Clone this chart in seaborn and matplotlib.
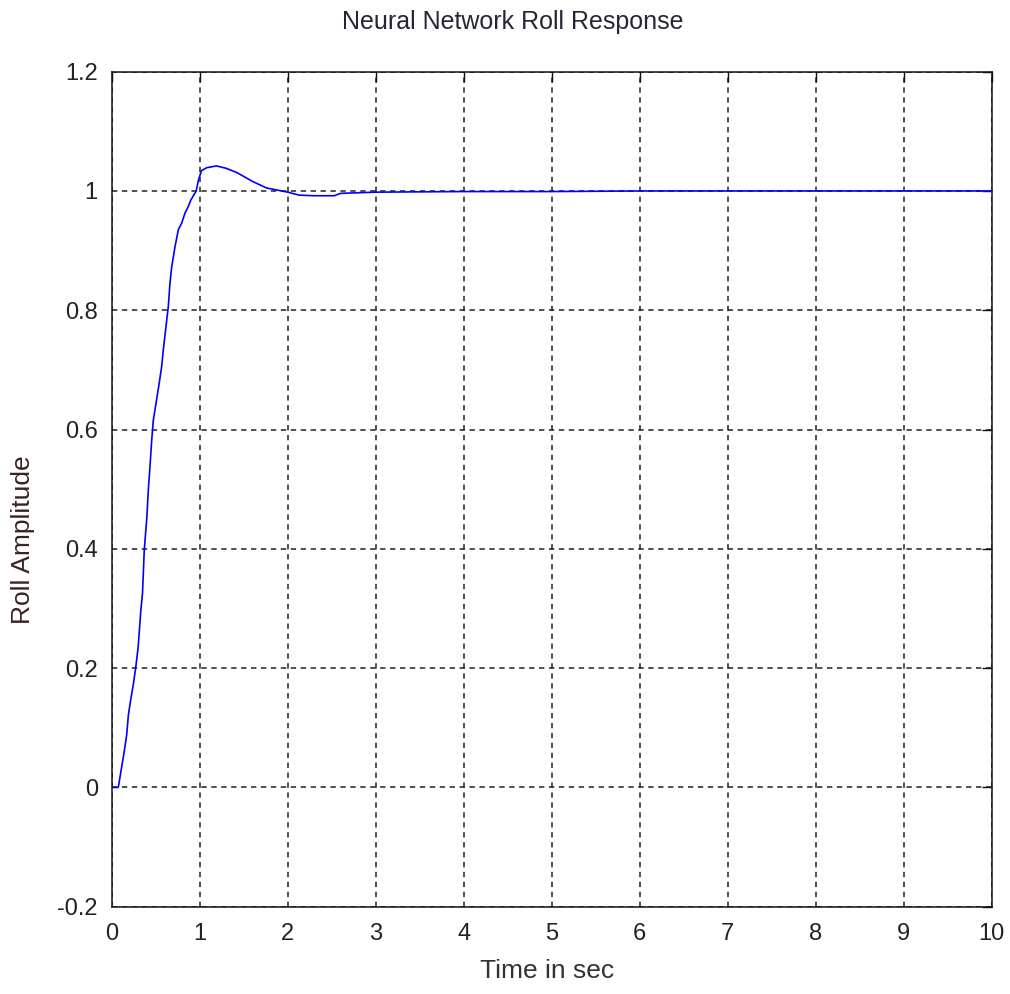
import matplotlib
matplotlib.use("Agg")
import matplotlib.pyplot as plt
import seaborn as sns
import pandas as pd

# Data
time_sec = [0, 0.075, 0.114, 0.14, 0.17, 0.19, 0.216, 0.245, 0.273, 0.30, 0.33, 0.35,
            0.37, 0.40, 0.416, 0.435, 0.455, 0.473, 0.51, 0.54, 0.568, 0.586, 0.617,
            0.643, 0.662, 0.682, 0.72, 0.757, 0.795, 0.833, 0.87, 0.90, 0.96, 0.985,
            1.02, 1.08, 1.19, 1.3, 1.42, 1.6, 1.76, 2.0, 2.13, 2.3, 2.53, 2.6,
            3, 4, 5, 6, 7, 8, 9, 10]
roll_amp = [0, 0, 0.035, 0.058, 0.088, 0.122, 0.147, 0.172, 0.201, 0.234, 0.295, 0.326,
            0.398, 0.454, 0.499, 0.538, 0.583, 0.616, 0.65, 0.678, 0.706, 0.733, 0.773,
            0.806, 0.845, 0.873, 0.907, 0.935, 0.946, 0.963, 0.974, 0.985, 1.0, 1.018,
            1.034, 1.039, 1.042, 1.038, 1.031, 1.016, 1.005, 0.998, 0.993, 0.992, 0.992, 0.996,
            0.998, 0.999, 0.999, 1.0, 1.0, 1.0, 1.0, 1.0]
x_ticks = [0, 1, 2, 3, 4, 5, 6, 7, 8, 9, 10]
y_ticks = [-0.2, 0, 0.2, 0.4, 0.6, 0.8, 1.0, 1.2]
y_tick_labels = ["-0.2", "0", "0.2", "0.4", "0.6", "0.8", "1", "1.2"]

sns.set_style("white")
plt.rcParams['font.family'] = ['Liberation Sans', 'DejaVu Sans']

df = pd.DataFrame({"t": time_sec, "a": roll_amp})

fig = plt.figure(figsize=(10.1, 9.94), dpi=100)
ax = fig.add_axes([0.1106, 0.0878, 0.8713, 0.8401])

sns.lineplot(data=df, x="t", y="a", ax=ax, color="#0000ff", linewidth=1.2,
             estimator=None, sort=False)

ax.set_xlim(0, 10)
ax.set_ylim(-0.2, 1.2)
ax.set_xticks(x_ticks)
ax.set_xticklabels([str(v) for v in x_ticks])
ax.set_yticks(y_ticks)
ax.set_yticklabels(y_tick_labels)

ax.grid(True, color="#222222", linestyle=(0, (3.5, 3)), linewidth=1.1)
ax.set_axisbelow(True)
for s in ax.spines.values():
    s.set_color("#111111")
    s.set_linewidth(1.1)

ax.tick_params(direction="in", length=7, width=1.0, color="#111111",
               top=True, right=True, labelsize=17, labelcolor="#222222")
ax.tick_params(axis="x", pad=12)
ax.tick_params(axis="y", pad=10)

fig.text(0.508, 0.978, "Neural Network Roll Response", fontsize=18,
         color="#2a2438", ha="center", va="center")
ax.set_xlabel("Time in sec", fontsize=19, color="#333333")
ax.xaxis.set_label_coords(0.4947, -0.062)
ax.set_ylabel("Roll Amplitude", fontsize=19, color="#3a2222")
ax.yaxis.set_label_coords(-0.087, 0.44)

fig.savefig("out.png", dpi=100, facecolor="white")
